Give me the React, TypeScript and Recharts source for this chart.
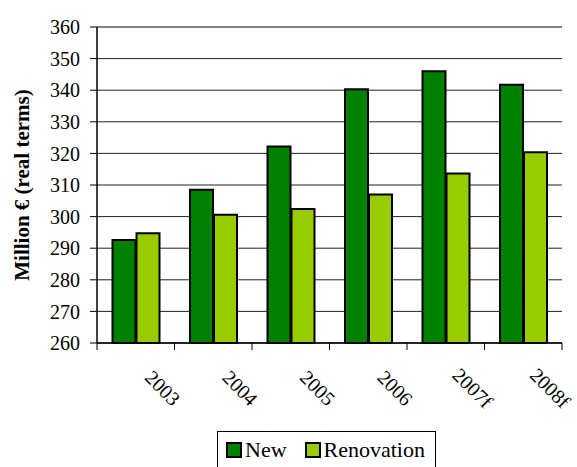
import React from "react";
import { BarChart, Bar, XAxis, YAxis, CartesianGrid, Legend, ReferenceLine } from "recharts";

const years = ["2003", "2004", "2005", "2006", "2007f", "2008f"];
const newValues = [292.6, 308.5, 322.2, 340.3, 346.0, 341.7];
const renovationValues = [294.7, 300.6, 302.4, 307.0, 313.6, 320.4];
const yTicks = [260, 270, 280, 290, 300, 310, 320, 330, 340, 350, 360];

const data = years.map((year, i) => ({
  year,
  New: newValues[i],
  Renovation: renovationValues[i],
}));

const FONT = "Liberation Serif, Times New Roman, Tinos, DejaVu Serif, serif";
const WIDTH = 577;
const HEIGHT = 467;
const PLOT_LEFT = 97;
const PLOT_RIGHT = 15;
const HALF_BAND = (WIDTH - PLOT_LEFT - PLOT_RIGHT) / years.length / 2;

const YearTick = (props: any) => {
  const { x, y, payload, index } = props;
  const cx = x + 27;
  const cy = y + 45;
  return (
    <g>
      {index === 0 && (
        <line x1={x - HALF_BAND} x2={x - HALF_BAND} y1={y} y2={y + 7} stroke="#000" />
      )}
      <line x1={x + HALF_BAND} x2={x + HALF_BAND} y1={y} y2={y + 7} stroke="#000" />
      <text
        x={cx}
        y={cy}
        transform={`rotate(45, ${cx}, ${cy})`}
        textAnchor="middle"
        dominantBaseline="central"
        style={{ fontFamily: FONT, fontSize: 20 }}
        fill="#000"
      >
        {payload.value}
      </text>
    </g>
  );
};

const renderLegend = (props: any) => {
  const { payload } = props;
  return (
    <div
      style={{
        display: "inline-flex",
        alignItems: "center",
        border: "1px solid #000",
        padding: "6px 10px 6px 8px",
        fontFamily: FONT,
        fontSize: 22,
        lineHeight: "24px",
        background: "#fff",
        whiteSpace: "nowrap",
      }}
    >
      {payload.map((entry: any, i: number) => (
        <span key={entry.value} style={{ display: "inline-flex", alignItems: "center", marginLeft: i ? 18 : 0 }}>
          <span
            style={{
              display: "inline-block",
              width: 12,
              height: 12,
              background: entry.color,
              border: "2px solid #000",
              marginRight: 3,
            }}
          />
          {entry.value}
        </span>
      ))}
    </div>
  );
};

export default function App() {
  return (
    <div style={{ position: "absolute", left: 0, top: 0, width: WIDTH, height: HEIGHT, background: "#fff" }}>
      <BarChart
        width={WIDTH}
        height={HEIGHT}
        data={data}
        margin={{ top: 27, right: PLOT_RIGHT, bottom: 0, left: 0 }}
        barCategoryGap="20%"
        barGap={1}
      >
        <CartesianGrid yAxisId="left" horizontal vertical={false} stroke="#222" strokeWidth={1} />
        <XAxis
          dataKey="year"
          height={124}
          tickLine={false}
          tickSize={0}
          tickMargin={0}
          axisLine={{ stroke: "#000", strokeWidth: 1.5 }}
          tick={<YearTick />}
          interval={0}
        />
        <YAxis
          yAxisId="left"
          width={PLOT_LEFT}
          domain={[260, 360]}
          ticks={yTicks}
          interval={0}
          tickSize={7}
          tickMargin={10}
          tickLine={{ stroke: "#000" }}
          axisLine={{ stroke: "#000", strokeWidth: 1.5 }}
          tick={{ fill: "#000", fontSize: 20, style: { fontFamily: FONT } }}
          label={{
            value: "Million € (real terms)",
            angle: -90,
            position: "insideLeft",
            offset: 22,
            style: { textAnchor: "middle", fontFamily: FONT, fontSize: 21, fontWeight: "bold", fill: "#000" },
          }}
        />
        <YAxis
          yAxisId="right"
          orientation="right"
          width={0}
          domain={[260, 360]}
          tick={false}
          tickLine={false}
          axisLine={{ stroke: "#808080", strokeWidth: 2 }}
        />
        <ReferenceLine yAxisId="left" y={360} stroke="#808080" strokeWidth={2} />
        <Bar yAxisId="left" dataKey="New" fill="#008000" stroke="#000" strokeWidth={2} isAnimationActive={false} />
        <Bar yAxisId="left" dataKey="Renovation" fill="#99CC00" stroke="#000" strokeWidth={2} isAnimationActive={false} />
        <Legend
          content={renderLegend}
          layout="horizontal"
          verticalAlign="middle"
          align="center"
          wrapperStyle={{ position: "absolute", left: 217, top: 431, width: "auto", height: "auto" }}
        />
      </BarChart>
    </div>
  );
}
